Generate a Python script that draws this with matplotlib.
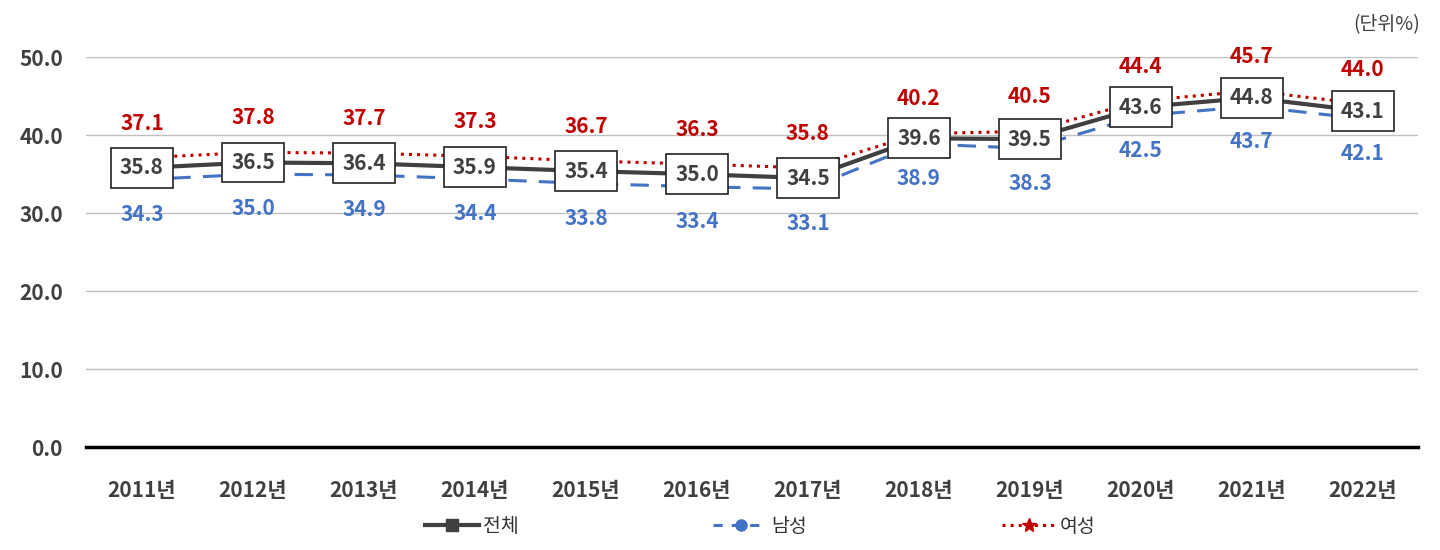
import matplotlib.pyplot as plt
import numpy as np
from matplotlib.lines import Line2D

plt.rcParams['font.family'] = ['Noto Sans CJK KR', 'DejaVu Sans']

years = ["2011년", "2012년", "2013년", "2014년", "2015년", "2016년",
         "2017년", "2018년", "2019년", "2020년", "2021년", "2022년"]
total = [35.8, 36.5, 36.4, 35.9, 35.4, 35.0, 34.5, 39.6, 39.5, 43.6, 44.8, 43.1]
male = [34.3, 35.0, 34.9, 34.4, 33.8, 33.4, 33.1, 38.9, 38.3, 42.5, 43.7, 42.1]
female = [37.1, 37.8, 37.7, 37.3, 36.7, 36.3, 35.8, 40.2, 40.5, 44.4, 45.7, 44.0]

x = np.arange(len(years))

fig = plt.figure(figsize=(14.4, 5.5), dpi=100)
ax = fig.add_axes([0.060, 0.187, 0.925, 0.709])

ax.plot(x, female, color="#C00000", linestyle=":", linewidth=2.2)
ax.plot(x, male, color="#4472C4", linestyle=(0, (6, 4)), linewidth=2.2)
ax.plot(x, total, color="#404040", linestyle="-", linewidth=3)

for i in range(len(years)):
    ax.annotate(f"{female[i]:.1f}", (x[i], female[i]), xytext=(0, 25),
                textcoords="offset points", ha="center", va="center",
                fontsize=15, fontweight="bold", color="#C00000")
    ax.annotate(f"{male[i]:.1f}", (x[i], male[i]), xytext=(0, -25),
                textcoords="offset points", ha="center", va="center",
                fontsize=15, fontweight="bold", color="#4472C4")
    ax.annotate(f"{total[i]:.1f}", (x[i], total[i]), xytext=(0, 0),
                textcoords="offset points", ha="center", va="center",
                fontsize=15, fontweight="bold", color="#404040",
                bbox=dict(boxstyle="square,pad=0.45", fc="white", ec="#222222", lw=1.2))

ax.set_xlim(-0.5, len(years) - 0.5)
ax.set_ylim(0, 50)
ax.set_yticks([0, 10, 20, 30, 40, 50])
ax.set_yticklabels([f"{v:.1f}" for v in [0, 10, 20, 30, 40, 50]])
ax.set_xticks(x)
ax.set_xticklabels(years)
ax.tick_params(axis="both", length=0, labelsize=15, colors="#404040")
ax.tick_params(axis="x", pad=24)
ax.tick_params(axis="y", pad=17)
for lab in ax.get_xticklabels() + ax.get_yticklabels():
    lab.set_fontweight("bold")

ax.grid(axis="y", color="#BFBFBF", linewidth=1)
ax.set_axisbelow(True)
for s in ["top", "right", "left"]:
    ax.spines[s].set_visible(False)
ax.spines["bottom"].set_linewidth(2.5)
ax.spines["bottom"].set_color("black")

fig.text(0.986, 0.955, "(단위%)", ha="right", va="center", fontsize=14, color="#404040")

handles = [
    Line2D([], [], color="#404040", linewidth=3, marker="s", markersize=8),
    Line2D([], [], color="#4472C4", linestyle=(0, (3, 3)), linewidth=2.2, marker="o", markersize=8),
    Line2D([], [], color="#C00000", linestyle=":", linewidth=2.2, marker="*", markersize=10),
]
leg = fig.legend(handles, ["전체", "남성", "여성"], loc="center", bbox_to_anchor=(0.528, 0.043),
                 ncol=3, frameon=False, fontsize=14, columnspacing=10, handlelength=2.8,
                 handletextpad=0.2)
for t in leg.get_texts():
    t.set_color("#333333")

fig.savefig("out.png", dpi=100)
